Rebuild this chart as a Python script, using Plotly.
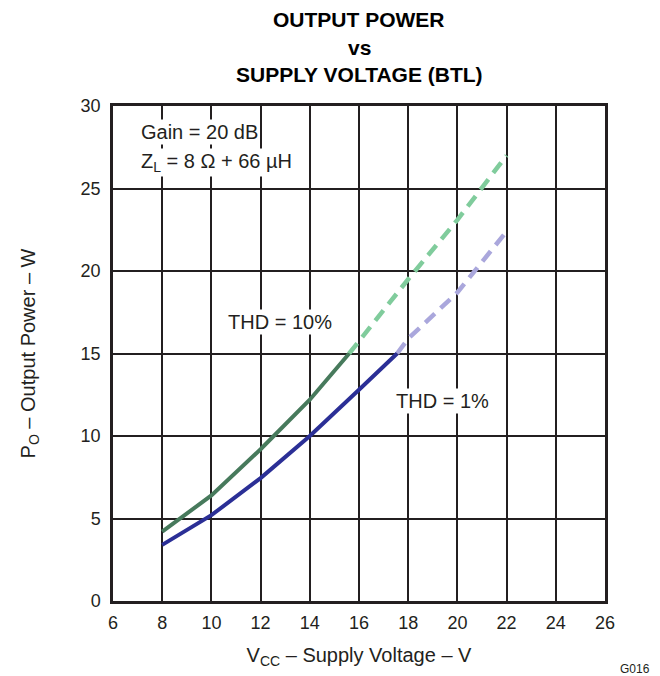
import plotly.graph_objects as go

# THD = 10 % curve (solid measured part, dashed extrapolated part)
thd10_solid_v = [8, 10, 12, 14, 15.6]
thd10_solid_p = [4.2, 6.4, 9.2, 12.2, 15.0]
thd10_dash_v = [15.6, 18, 20, 22]
thd10_dash_p = [15.0, 19.5, 23.1, 27.0]

# THD = 1 % curve
thd1_solid_v = [8, 10, 12, 14, 16, 17.55]
thd1_solid_p = [3.4, 5.2, 7.45, 10.0, 12.8, 15.0]
thd1_dash_v = [17.55, 18, 20, 22]
thd1_dash_p = [15.0, 15.9, 18.7, 22.4]

x_ticks = [6, 8, 10, 12, 14, 16, 18, 20, 22, 24, 26]
y_ticks = [0, 5, 10, 15, 20, 25, 30]
title_lines = ["OUTPUT POWER", "vs", "SUPPLY VOLTAGE (BTL)"]

FONT = "Liberation Sans, Arial, sans-serif"
INK = "#231f20"

fig = go.Figure()
fig.add_trace(go.Scatter(x=thd10_dash_v, y=thd10_dash_p, mode="lines",
                         line=dict(color="#80cc9c", width=4.5, dash="13px,8px")))
fig.add_trace(go.Scatter(x=thd1_dash_v, y=thd1_dash_p, mode="lines",
                         line=dict(color="#aaa7dc", width=4.5, dash="13px,8px")))
fig.add_trace(go.Scatter(x=thd10_solid_v, y=thd10_solid_p, mode="lines",
                         line=dict(color="#477a5c", width=4)))
fig.add_trace(go.Scatter(x=thd1_solid_v, y=thd1_solid_p, mode="lines",
                         line=dict(color="#2b2f96", width=4)))

axis_common = dict(
    showgrid=True, gridcolor=INK, gridwidth=1.5, zeroline=False,
    showline=True, linecolor=INK, linewidth=2.5, mirror=True,
    ticks="", tickfont=dict(size=18, color=INK, family=FONT),
)
fig.update_xaxes(range=[6, 26], tickvals=x_ticks, ticklabelstandoff=4, **axis_common,
                 title=dict(text="V<sub>CC</sub> – Supply Voltage – V",
                            font=dict(size=20, color=INK, family=FONT), standoff=16))
fig.update_yaxes(range=[0, 30], tickvals=y_ticks, ticklabelstandoff=6, **axis_common,
                 title=dict(text="P<sub>O</sub> – Output Power – W",
                            font=dict(size=20, color=INK, family=FONT), standoff=40))

ann_font = dict(size=20, color=INK, family=FONT)
fig.add_annotation(x=7.05, y=28.4, xanchor="left", showarrow=False, bgcolor="white",
                   text="Gain = 20 dB", font=ann_font)
fig.add_annotation(x=7.05, y=26.6, xanchor="left", showarrow=False, bgcolor="white",
                   text="Z<sub>L</sub> = 8 Ω + 66 µH", font=ann_font)
fig.add_annotation(x=12.8, y=16.9, showarrow=False, bgcolor="white",
                   text="THD = 10%", font=ann_font)
fig.add_annotation(x=19.4, y=12.1, showarrow=False, bgcolor="white",
                   text="THD = 1%", font=ann_font)
fig.add_annotation(x=1, y=0, xref="paper", yref="paper", xanchor="center", yanchor="middle",
                   xshift=30, yshift=-68, showarrow=False, text="G016",
                   font=dict(size=12, color=INK, family=FONT))

# title as three single-line annotations so nothing spills past the top edge
for line, shift in zip(title_lines, [87, 59, 32]):
    fig.add_annotation(x=0.5, y=1, xref="paper", yref="paper", xanchor="center",
                       yanchor="middle", yshift=shift, showarrow=False,
                       text=f"<b>{line}</b>",
                       font=dict(size=21, color="black", family=FONT))

# page body adds an 8px margin, so the figure is sized to fit the window
fig.update_layout(
    width=652, height=668,
    margin=dict(l=105, r=55, t=98, b=75),
    showlegend=False,
    plot_bgcolor="white", paper_bgcolor="white",
)

fig.write_html("out.html")
